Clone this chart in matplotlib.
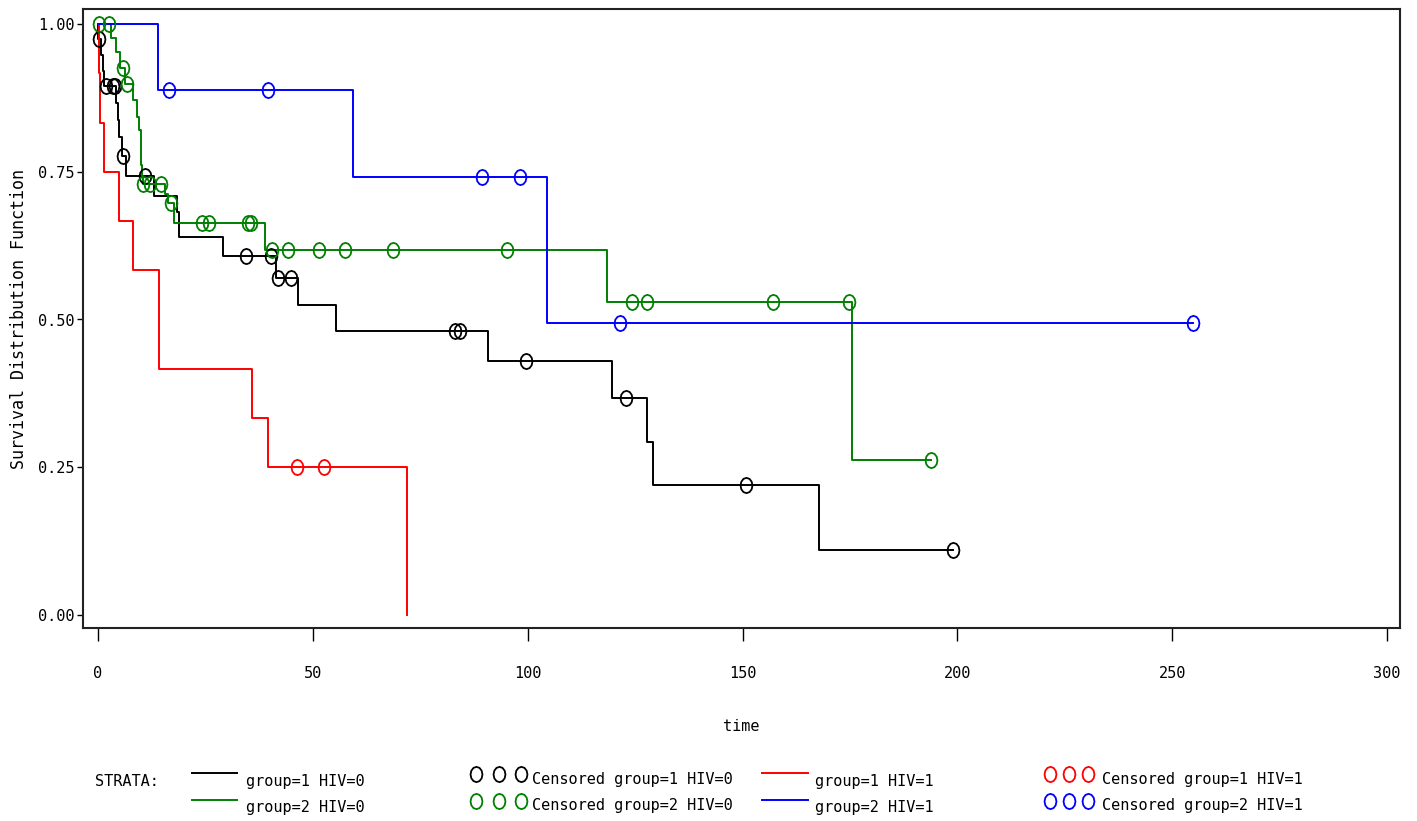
import numpy as np
import matplotlib
matplotlib.use("Agg")
import matplotlib.pyplot as plt
from matplotlib.path import Path
from matplotlib.lines import Line2D

# ---- Kaplan-Meier estimates by stratum (event times, survival after event, censor times)
g1h0_event_t = [0.1, 0.8, 1.1, 1.3, 4.2, 4.6, 5.0, 5.5, 6.5, 13.0, 18.3, 18.9,
                29.2, 41.4, 46.6, 55.4, 90.8, 119.6, 127.7, 129.1, 167.7]
g1h0_surv = [0.974, 0.947, 0.921, 0.895, 0.866, 0.837, 0.808, 0.776, 0.742, 0.709,
             0.682, 0.640, 0.607, 0.570, 0.525, 0.481, 0.429, 0.368, 0.292, 0.220, 0.110]
g1h0_cens = [0.3, 1.9, 3.4, 3.9, 5.9, 10.9, 34.4, 40.3, 42.0, 44.9, 83.1, 84.2,
             99.6, 123.0, 150.7, 198.9]

g2h0_event_t = [3.0, 4.3, 5.2, 6.4, 8.1, 9.0, 9.6, 9.9, 10.2, 10.4, 15.6, 16.3,
                17.8, 38.9, 118.5, 175.6]
g2h0_surv = [0.976, 0.953, 0.926, 0.898, 0.871, 0.843, 0.820, 0.761, 0.742, 0.730,
             0.713, 0.697, 0.663, 0.617, 0.529, 0.263]
g2h0_cens = [0.2, 2.6, 5.9, 6.7, 10.5, 12.0, 14.7, 16.9, 24.1, 25.9, 35.0, 35.5,
             40.4, 44.3, 51.5, 57.5, 68.6, 95.3, 124.3, 127.7, 157.1, 174.8, 193.9]

g1h1_event_t = [0.2, 0.4, 1.3, 4.9, 8.2, 14.1, 14.3, 35.8, 39.5, 71.8]
g1h1_surv = [0.917, 0.833, 0.750, 0.667, 0.583, 0.500, 0.417, 0.333, 0.250, 0.0]
g1h1_cens = [46.2, 52.7]

g2h1_event_t = [13.9, 59.3, 104.6]
g2h1_surv = [0.889, 0.741, 0.494]
g2h1_cens = [16.5, 39.6, 89.4, 98.2, 121.5, 254.8]

strata_labels = ["group=1 HIV=0", "group=2 HIV=0", "group=1 HIV=1", "group=2 HIV=1"]
strata_colors = ["#000000", "#008000", "#FF0000", "#0000FF"]

x_ticks = [0, 50, 100, 150, 200, 250, 300]
y_ticks = [0.0, 0.25, 0.50, 0.75, 1.00]
y_ticklabels = ["0.00", "0.25", "0.50", "0.75", "1.00"]

strata = [
    (g1h0_event_t, g1h0_surv, g1h0_cens),
    (g2h0_event_t, g2h0_surv, g2h0_cens),
    (g1h1_event_t, g1h1_surv, g1h1_cens),
    (g2h1_event_t, g2h1_surv, g2h1_cens),
]

FONT = "DejaVu Sans Mono"
plt.rcParams["font.family"] = [FONT, "DejaVu Sans"]
plt.rcParams["font.size"] = 11

# tall octagon-like ellipse used as the censoring symbol
theta = np.linspace(0, 2 * np.pi, 13)
censor_marker = Path(np.column_stack([0.78 * np.sin(theta), np.cos(theta)]), closed=True)
MS, MEW = 11, 1.3

W, H = 1417, 821
fig = plt.figure(figsize=(W / 100, H / 100), dpi=100)
L, R, T, B = 83, 1400, 9, 628
ax = fig.add_axes([L / W, 1 - B / H, (R - L) / W, (B - T) / H])

px_per_x = (1387 - 98) / 300.0
px_per_y = 591.0
ax.set_xlim((L - 98) / px_per_x, (R - 98) / px_per_x)
ax.set_ylim((615 - B) / px_per_y, (615 - T) / px_per_y)


def step_curve(event_t, surv, cens):
    t = np.concatenate([[0.0], event_t])
    s = np.concatenate([[1.0], surv])
    if len(cens) and max(cens) > t[-1]:
        t = np.append(t, max(cens))
        s = np.append(s, s[-1])
    return t, s


def surv_at(event_t, surv, times):
    t = np.asarray(event_t)
    s = np.concatenate([[1.0], surv])
    idx = np.searchsorted(t, times, side="right")
    return s[idx]


for (ev, sv, cs), col in zip(strata, strata_colors):
    t, s = step_curve(ev, sv, cs)
    ax.step(t, s, where="post", color=col, lw=1.4, zorder=3)
    ax.plot(cs, surv_at(ev, sv, cs), linestyle="none", marker=censor_marker,
            ms=MS, mfc="none", mec=col, mew=MEW, zorder=4)

for sp in ax.spines.values():
    sp.set_linewidth(1.5)
    sp.set_color("#222222")

ax.set_xticks(x_ticks)
ax.set_xticklabels([str(v) for v in x_ticks])
ax.set_yticks(y_ticks)
ax.set_yticklabels(y_ticklabels)
ax.tick_params(axis="x", direction="out", length=9, width=1, pad=18, labelsize=11)
ax.tick_params(axis="y", direction="out", length=4.5, width=1, pad=1.5, labelsize=11)

ax.set_xlabel("time", fontsize=11)
ax.xaxis.set_label_coords(0.5, (B - 719) / (B - T))
ax.set_ylabel("Survival Distribution Function", fontsize=12)
ax.yaxis.set_label_coords((28 - L) / (R - L), 0.5)

# ---- legend block drawn in figure pixel space
lg = fig.add_axes([0, 0, 1, 1])
lg.set_xlim(0, W)
lg.set_ylim(H, 0)
lg.axis("off")
lg.patch.set_visible(False)

row_line_y = [773, 800]
row_text_y = [786, 812]
lg.text(95, row_text_y[0], "STRATA:", ha="left", va="baseline", fontsize=11)

line_cols = [(192, 237, 246), (762, 808, 815)]
mark_cols = [((476, 499, 521), 532), ((1050, 1069, 1088), 1102)]
for i, (lab, col) in enumerate(zip(strata_labels, strata_colors)):
    c, r = divmod(i, 2)
    x0, x1, xt = line_cols[c]
    lg.add_line(Line2D([x0, x1], [row_line_y[r]] * 2, color=col, lw=1.4))
    lg.text(xt, row_text_y[r], lab, ha="left", va="baseline", fontsize=11)
    mxs, mt = mark_cols[c]
    lg.plot(mxs, [row_line_y[r] + 1] * 3, linestyle="none", marker=censor_marker,
            ms=MS, mfc="none", mec=col, mew=MEW)
    lg.text(mt, row_text_y[r] - 2, "Censored " + lab, ha="left", va="baseline", fontsize=11)

fig.savefig("out.png", dpi=100)
